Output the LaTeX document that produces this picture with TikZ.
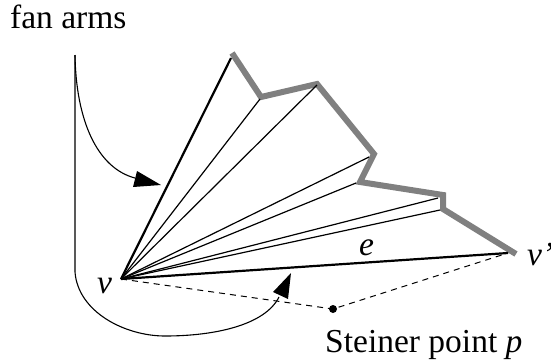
\documentclass[tikz,border=0pt]{standalone}
\usepackage{fontspec}
\setmainfont{Liberation Serif}
\tikzset{
  thinline/.style={line width=1.2pt,black},
  thickline/.style={line width=2.2pt,black},
  chain/.style={line width=6pt,draw=black!50,line join=miter,miter limit=10},
  dashline/.style={line width=1pt,dash pattern=on 6pt off 5pt},
  curveline/.style={line width=1.1pt},
  head/.style={fill=black,draw=none},
  lbl/.style={inner sep=0pt,font=\fontsize{33.5}{38}\selectfont},
  ilbl/.style={inner sep=0pt,font=\fontsize{33.5}{38}\selectfont\itshape}
}
\begin{document}
\begin{tikzpicture}[x=1pt,y=-1pt]
\useasboundingbox (0,0) rectangle (551,360);
\coordinate (v) at (121,279);
\coordinate (a1) at (231,58);
\coordinate (a2) at (260,99);
\coordinate (a3) at (317,85);
\coordinate (a4) at (369,157);
\coordinate (a5) at (356,183);
\coordinate (a6) at (438,198);
\coordinate (a7) at (440,210);
\coordinate (a8) at (508,253);
\coordinate (top) at (232,53);
\coordinate (vp) at (516,254);
\coordinate (p) at (333,309);
\coordinate (s) at (75,55);
\coordinate (k) at (75,272);
% chain
\draw[chain] (top) -- (261,97) -- (317,84) -- (374,154) -- (360,182) -- (443,195) -- (443,209) -- (vp);
% arms
\foreach \t in {a2,a3,a4,a5,a6,a7} \draw[thinline] (v) -- (\t);
\draw[thickline] (v) -- (a1);
\draw[thickline] (v) -- (a8);
% dashed
\draw[dashline] (v) -- (p) -- (a8);
\fill (p) circle (4);
% curves
\draw[curveline] (s) .. controls (76,120) and (97,168) .. (135,178);
\fill[head] (161,185) -- (137,171) -- (133,187) -- cycle;
\draw[curveline] (s) -- (k) .. controls (78,312) and (125,336) .. (165,336) .. controls (215,336) and (265,325) .. (279,297);
\fill[head] (291,273) -- (273,292) -- (288,299) -- cycle;
% labels
\node[lbl,anchor=base west] (fan) at (10,28) {fan arms};
\node[ilbl,anchor=base west] (lv) at (97,293) {v};
\node[ilbl,anchor=base west] (le) at (359,255) {e};
\node[ilbl,anchor=base west] (lvp) at (527,265) {v'};
\node[lbl,anchor=base west] (st) at (325,352) {Steiner point \textit{p}};
\end{tikzpicture}
\end{document}
